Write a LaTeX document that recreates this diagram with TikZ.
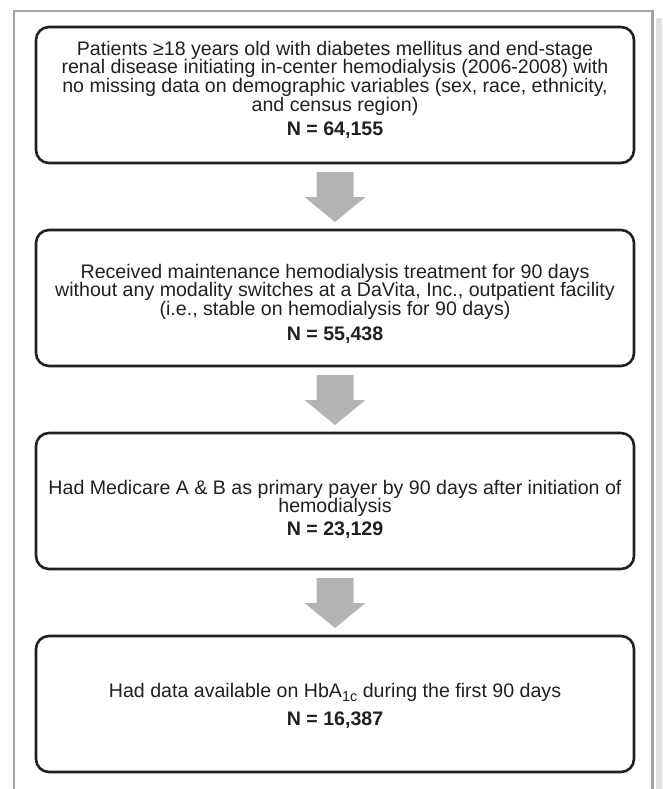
\documentclass[tikz,border=0pt]{standalone}
\usepackage{fontspec}
\setmainfont{Liberation Sans}
\usetikzlibrary{calc}
\definecolor{ink}{HTML}{231F20}
\definecolor{framegray}{HTML}{A3A3A3}
\definecolor{arrowgray}{HTML}{B4B4B6}
\definecolor{stripgray}{HTML}{E4E0E0}
\newcommand\stagearrow[2]{%
  \fill[arrowgray] let \p1=(#1.south), \p2=(#2.north) in
    (\x1-18.5pt,\y1-9pt) -- (\x1+18.5pt,\y1-9pt) -- (\x1+18.5pt,\y2+33pt) --
    (\x1+30.5pt,\y2+33pt) -- (\x1,\y2+8pt) -- (\x1-30.5pt,\y2+33pt) --
    (\x1-18.5pt,\y2+33pt) -- cycle;}
\newcommand\lowsub[1]{\raisebox{-4.5pt}{\fontsize{14.5}{14}\selectfont #1}}
\begin{document}
\begin{tikzpicture}[x=1pt,y=-1pt,
  stage/.style={draw=ink, line width=2.6pt, rounded corners=13pt,
    minimum width=598pt, minimum height=136pt, inner sep=0pt, outer sep=0pt},
  ln/.style={anchor=base, inner sep=0pt, text=ink, font=\fontsize{19.6}{18.5}\selectfont},
  nn/.style={anchor=base, inner sep=0pt, text=ink, font=\fontsize{19.6}{18.5}\selectfont\bfseries},
]
\useasboundingbox (0,0) rectangle (662,789);
\fill[stripgray] (655.5,18) rectangle (662,789);
\draw[framegray, line width=2.8pt] (14,789) -- (14,11) -- (652.5,11) -- (652.5,789);

\node[stage] (b1) at (335,95) {};
\node[stage] (b2) at (335,298) {};
\node[stage] (b3) at (335,501) {};
\node[stage] (b4) at (335,704) {};

\node[ln] (t1a) at (335,55.5) {Patients ≥18 years old with diabetes mellitus and end-stage};
\node[ln] (t1b) at (335,74) {renal disease initiating in-center hemodialysis (2006-2008) with};
\node[ln] (t1c) at (335,92.5) {no missing data on demographic variables (sex, race, ethnicity,};
\node[ln] (t1d) at (335,111) {and census region)};
\node[nn] (n1) at (335,135.5) {N = 64,155};

\node[ln] (t2a) at (335,278) {Received maintenance hemodialysis treatment for 90 days};
\node[ln] (t2b) at (335,296.5) {without any modality switches at a DaVita, Inc., outpatient facility};
\node[ln] (t2c) at (335,315) {(i.e., stable on hemodialysis for 90 days)};
\node[nn] (n2) at (335,340) {N = 55,438};

\node[ln] (t3a) at (335,494) {Had Medicare A \& B as primary payer by 90 days after initiation of};
\node[ln] (t3b) at (335,512.5) {hemodialysis};
\node[nn] (n3) at (335,535.5) {N = 23,129};

\node[ln] (t4a) at (335,697) {Had data available on HbA\lowsub{1c} during the first 90 days};
\node[nn] (n4) at (335,725) {N = 16,387};

\stagearrow{b1}{b2}
\stagearrow{b2}{b3}
\stagearrow{b3}{b4}
\end{tikzpicture}
\end{document}
